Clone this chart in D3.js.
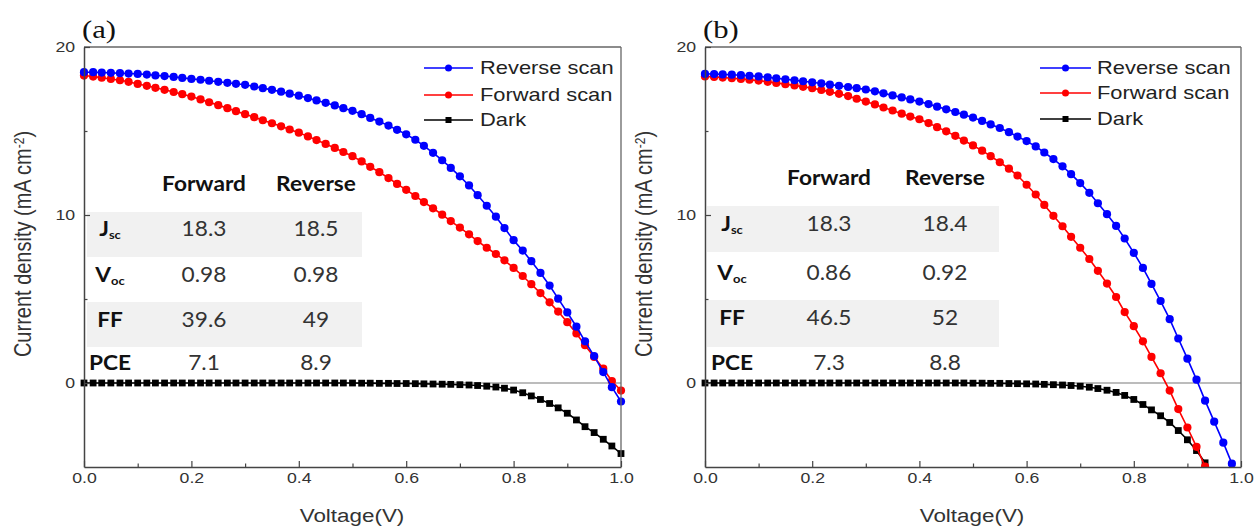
<!DOCTYPE html>
<html>
<head>
<meta charset="utf-8">
<script src="https://cdn.jsdelivr.net/npm/d3@7"></script>
<style>
  body { margin: 0; background: #fff; }
  svg { display: block; }
  .axis text { font-family: "Liberation Sans", Arial, sans-serif; font-size: 15px; fill: #333; }
  .axis .domain { stroke: #444; stroke-width: 1.5; }
  .axis line { stroke: #444; stroke-width: 1.2; }
</style>
</head>
<body>
<div id="chart"></div>
<script>

// measurement grid (V)
var voltage = [0.000,0.017,0.033,0.050,0.067,0.083,0.100,0.117,0.133,0.150,0.167,0.183,0.200,0.217,0.233,0.250,
  0.267,0.283,0.300,0.317,0.333,0.350,0.367,0.383,0.400,0.417,0.433,0.450,0.467,0.483,0.500,0.517,0.533,0.550,
  0.567,0.583,0.600,0.617,0.633,0.650,0.667,0.683,0.700,0.717,0.733,0.750,0.767,0.783,0.800,0.817,0.833,0.850,
  0.867,0.883,0.900,0.917,0.933,0.950,0.967,0.983,1.000];

// panel (a), mA cm-2
var reverseA = [18.50,18.50,18.48,18.46,18.44,18.42,18.40,18.36,18.31,18.27,
  18.22,18.16,18.10,18.05,17.99,17.93,17.87,17.81,17.75,17.65,
  17.55,17.45,17.34,17.22,17.10,16.96,16.82,16.68,16.52,16.36,
  16.20,16.00,15.78,15.56,15.32,15.07,14.80,14.48,14.12,13.70,
  13.26,12.80,12.30,11.76,11.18,10.55,9.90,9.22,8.50,7.88,
  7.25,6.55,5.80,5.02,4.20,3.35,2.48,1.60,0.65,-0.25,-1.10];
var forwardA = [18.30,18.24,18.17,18.10,18.02,17.93,17.80,17.69,17.57,17.45,
  17.32,17.19,17.05,16.88,16.71,16.54,16.36,16.18,16.00,15.82,
  15.64,15.46,15.28,15.09,14.90,14.68,14.46,14.23,13.99,13.75,
  13.50,13.19,12.87,12.55,12.20,11.85,11.50,11.13,10.77,10.40,
  10.02,9.64,9.25,8.85,8.45,8.05,7.68,7.30,6.85,6.37,
  5.88,5.35,4.80,4.25,3.62,2.95,2.25,1.55,0.85,0.12,-0.45];
var darkA = [0,0,0,0,0,0,0,0,0,0,
  0,0,0,0,0,0,0,0,0,0,
  0,0,0,0,0,0,0,0,0,0,
  0,-0.01,-0.01,-0.02,-0.02,-0.03,-0.03,-0.04,-0.05,-0.06,
  -0.07,-0.08,-0.10,-0.12,-0.15,-0.19,-0.24,-0.31,-0.42,-0.58,
  -0.77,-0.98,-1.22,-1.48,-1.80,-2.20,-2.60,-2.95,-3.35,-3.75,-4.20];

// panel (b)
var reverseB = [18.40,18.39,18.37,18.35,18.32,18.29,18.25,18.20,18.14,18.08,
  18.02,17.96,17.90,17.83,17.76,17.69,17.62,17.55,17.47,17.36,
  17.24,17.12,17.00,16.88,16.75,16.60,16.45,16.29,16.13,15.97,
  15.80,15.60,15.39,15.18,14.93,14.67,14.40,14.08,13.72,13.33,
  12.90,12.43,11.90,11.32,10.70,10.05,9.35,8.60,7.75,6.85,
  5.90,4.88,3.80,2.65,1.45,0.20,-1.05,-2.30,-3.55,-4.80,-6.05];
var forwardB = [18.25,18.22,18.18,18.14,18.10,18.05,18.00,17.93,17.86,17.79,
  17.71,17.63,17.55,17.44,17.33,17.21,17.08,16.92,16.75,16.58,
  16.40,16.22,16.03,15.86,15.70,15.47,15.23,14.98,14.71,14.43,
  14.14,13.83,13.50,13.14,12.76,12.35,11.80,11.22,10.60,9.95,
  9.33,8.70,8.05,7.38,6.68,5.92,5.12,4.22,3.38,2.48,
  1.55,0.58,-0.45,-1.55,-2.65,-3.80,-4.98];
var darkB = [0,0,0,0,0,0,0,0,0,0,
  0,0,0,0,0,0,0,0,0,0,
  0,0,0,0,0,0,0,0,0,0,
  -0.01,-0.01,-0.02,-0.02,-0.03,-0.04,-0.05,-0.06,-0.08,-0.10,
  -0.12,-0.15,-0.19,-0.25,-0.33,-0.43,-0.56,-0.74,-0.98,-1.28,
  -1.60,-1.95,-2.35,-2.83,-3.38,-4.02,-4.75];

var seriesNames = ["Reverse scan", "Forward scan", "Dark"];
var panelLabels = ["(a)", "(b)"];
var tableCols = ["Forward", "Reverse"];
var tableRows = [["J", "sc"], ["V", "oc"], ["FF", ""], ["PCE", ""]];
var tableA = [["18.3", "18.5"], ["0.98", "0.98"], ["39.6", "49"], ["7.1", "8.9"]];
var tableB = [["18.3", "18.4"], ["0.86", "0.92"], ["46.5", "52"], ["7.3", "8.8"]];

var xTicks = [0, 0.2, 0.4, 0.6, 0.8, 1.0];
var xMinor = [0.1, 0.3, 0.5, 0.7, 0.9];
var yTicks = [0, 10, 20];
var yMinor = [5, 15];

var colors = ["#0000ff", "#ff0000", "#000000"];
var sans = "'Liberation Sans', Arial, sans-serif";
var stretch = 1.18;   // source picture is a bit wider than tall

var plotTop = 47, plotBottom = 467;

var svg = d3.select("#chart").append("svg")
  .attr("width", 1255).attr("height", 526);
svg.append("rect").attr("width", 1255).attr("height", 526).attr("fill", "#fff");

var yScale = d3.scaleLinear().domain([-5, 20]).range([plotBottom, plotTop]);

var panels = [
  { id: "a", left: 84, right: 621, label: panelLabels[0], series: [reverseA, forwardA, darkA], table: tableA,
    tab: { x0: 87, x1: 362, head: 183, rows: [228, 274, 319, 362], bands: [[212, 257], [302, 347]], cols: [110, 204, 316] },
    leg: { x0: 424, x1: 473, tx: 480, rows: [68, 95, 120] }, yTitleX: 31, xTitleX: 352 },
  { id: "b", left: 705, right: 1241, label: panelLabels[1], series: [reverseB, forwardB, darkB], table: tableB,
    tab: { x0: 707, x1: 999, head: 177, rows: [223, 272, 317, 362], bands: [[206, 252], [300, 347]], cols: [732, 829, 945] },
    leg: { x0: 1040, x1: 1091, tx: 1097, rows: [68, 93, 119] }, yTitleX: 652, xTitleX: 972 }
];

panels.forEach(drawPanel);

function drawPanel(p) {
  var x = d3.scaleLinear().domain([0, 1]).range([p.left, p.right]);
  var g = svg.append("g");

  // table backgrounds
  p.tab.bands.forEach(function (b) {
    g.append("rect").attr("x", p.tab.x0).attr("y", b[0])
      .attr("width", p.tab.x1 - p.tab.x0).attr("height", b[1] - b[0])
      .attr("fill", "#f1f1f1");
  });

  // zero line
  g.append("line")
    .attr("x1", x(0)).attr("x2", x(1))
    .attr("y1", yScale(0)).attr("y2", yScale(0))
    .attr("stroke", "#7a7a7a").attr("stroke-width", 1.2);

  var clipId = "clip-" + p.id;
  svg.append("clipPath").attr("id", clipId).append("rect")
    .attr("x", x(0) - 6).attr("y", plotTop)
    .attr("width", x(1) - x(0) + 12).attr("height", plotBottom - plotTop);

  var plot = g.append("g").attr("clip-path", "url(#" + clipId + ")");

  var line = d3.line()
    .x(function (d) { return x(d[0]); })
    .y(function (d) { return yScale(d[1]); });

  // dark first, then forward, then reverse on top
  [2, 1, 0].forEach(function (k) {
    var vals = p.series[k];
    var pts = d3.zip(voltage.slice(0, vals.length), vals);
    plot.append("path").datum(pts)
      .attr("fill", "none").attr("stroke", colors[k]).attr("stroke-width", 1.6)
      .attr("d", line);
    if (k === 2) {
      plot.selectAll(".sq" + k).data(pts).enter().append("rect")
        .attr("x", function (d) { return x(d[0]) - 3.4; })
        .attr("y", function (d) { return yScale(d[1]) - 3.4; })
        .attr("width", 6.8).attr("height", 6.8)
        .attr("fill", colors[k]);
    } else {
      plot.selectAll(".dot" + k).data(pts).enter().append("circle")
        .attr("cx", function (d) { return x(d[0]); })
        .attr("cy", function (d) { return yScale(d[1]); })
        .attr("r", 4.1)
        .attr("fill", colors[k]);
    }
  });

  // frame top / right
  g.append("line").attr("x1", x(0)).attr("x2", x(1)).attr("y1", plotTop).attr("y2", plotTop)
    .attr("stroke", "#666").attr("stroke-width", 1.3);
  g.append("line").attr("x1", x(1)).attr("x2", x(1)).attr("y1", plotTop).attr("y2", plotBottom)
    .attr("stroke", "#666").attr("stroke-width", 1.3);

  // axes, ticks inward
  var xAxis = g.append("g").attr("class", "axis")
    .attr("transform", "translate(0," + plotBottom + ")")
    .call(d3.axisBottom(x).tickValues(xTicks).tickFormat(d3.format(".1f"))
      .tickSize(-6).tickSizeOuter(0).tickPadding(5));
  xAxis.selectAll(".tick text").attr("transform", "scale(" + stretch + ",1)");

  g.append("g").attr("class", "axis")
    .attr("transform", "translate(0," + plotBottom + ")")
    .call(d3.axisBottom(x).tickValues(xMinor).tickFormat("").tickSize(-3.5))
    .select(".domain").remove();

  var yAxis = g.append("g").attr("class", "axis")
    .attr("transform", "translate(" + x(0) + ",0)")
    .call(d3.axisLeft(yScale).tickValues(yTicks).tickSize(-6).tickSizeOuter(0).tickPadding(7.6));
  yAxis.selectAll(".tick text").attr("transform", "scale(" + stretch + ",1)");

  g.append("g").attr("class", "axis")
    .attr("transform", "translate(" + x(0) + ",0)")
    .call(d3.axisLeft(yScale).tickValues(yMinor).tickFormat("").tickSize(-3.5))
    .select(".domain").remove();

  // axis titles
  g.append("text")
    .attr("transform", "translate(" + p.xTitleX + ",522) scale(" + stretch + ",1)")
    .attr("text-anchor", "middle")
    .style("font-family", sans).style("font-size", "19px").attr("fill", "#333")
    .text("Voltage(V)");

  var yt = g.append("text")
    .attr("transform", "translate(" + p.yTitleX + ",244) scale(" + stretch + ",1) rotate(-90)")
    .attr("text-anchor", "middle")
    .style("font-family", sans).style("font-size", "20px").attr("fill", "#333");
  yt.append("tspan").text("Current density (mA cm");
  yt.append("tspan").attr("dy", -6).style("font-size", "12px").text("-2");
  yt.append("tspan").attr("dy", 6).text(")");

  // panel label
  g.append("text")
    .attr("transform", "translate(" + (p.left - 2) + ",38) scale(" + stretch + ",1)")
    .style("font-family", "'Liberation Serif', 'Times New Roman', serif").style("font-size", "26px")
    .attr("fill", "#111")
    .text(p.label);

  // legend
  seriesNames.forEach(function (name, k) {
    var ly = p.leg.rows[k];
    g.append("line").attr("x1", p.leg.x0).attr("x2", p.leg.x1).attr("y1", ly).attr("y2", ly)
      .attr("stroke", colors[k]).attr("stroke-width", 1.6);
    var mx = (p.leg.x0 + p.leg.x1) / 2;
    if (k === 2) {
      g.append("rect").attr("x", mx - 3).attr("y", ly - 3).attr("width", 6).attr("height", 6)
        .attr("fill", colors[k]);
    } else {
      g.append("circle").attr("cx", mx).attr("cy", ly).attr("r", 3.5).attr("fill", colors[k]);
    }
    g.append("text")
      .attr("transform", "translate(" + p.leg.tx + "," + (ly + 6.3) + ") scale(1.25,1)")
      .style("font-family", sans).style("font-size", "17.5px").attr("fill", "#222")
      .text(name);
  });

  // parameter table
  var tf = "Lato, 'Open Sans', sans-serif";
  var ts = 1.08;
  tableCols.forEach(function (c, j) {
    g.append("text")
      .attr("transform", "translate(" + p.tab.cols[j + 1] + "," + (p.tab.head + 7.5) + ") scale(" + ts + ",1)")
      .attr("text-anchor", "middle")
      .style("font-family", tf).style("font-size", "21px").style("font-weight", "bold")
      .attr("fill", "#111")
      .text(c);
  });
  tableRows.forEach(function (r, i) {
    var ry = p.tab.rows[i] + 7.5;
    var t = g.append("text")
      .attr("transform", "translate(" + p.tab.cols[0] + "," + ry + ") scale(" + ts + ",1)")
      .attr("text-anchor", "middle")
      .style("font-family", tf).style("font-size", "21px").style("font-weight", "bold")
      .attr("fill", "#111");
    t.append("tspan").text(r[0]);
    if (r[1]) {
      t.append("tspan").attr("dy", 3).style("font-size", "12px").text(r[1]);
    }
    p.table[i].forEach(function (v, j) {
      g.append("text")
        .attr("transform", "translate(" + p.tab.cols[j + 1] + "," + ry + ") scale(" + ts + ",1)")
        .attr("text-anchor", "middle")
        .style("font-family", tf).style("font-size", "21px")
        .attr("fill", "#333")
        .text(v);
    });
  });
}

</script>
</body>
</html>
